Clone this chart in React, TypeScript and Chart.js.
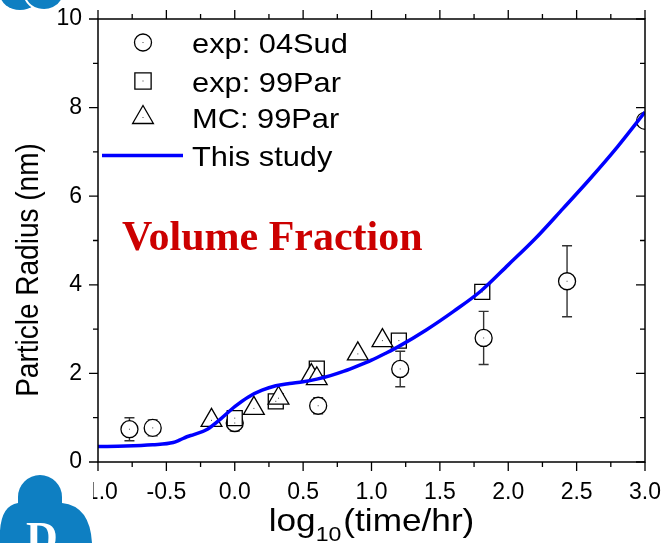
import React, { useEffect, useRef } from "react";
import { Chart, registerables } from "chart.js";

Chart.register(...registerables);

// exp: 04Sud (with error bars)
const sudX = [-0.77, -0.6, 0.0, 0.61, 1.21, 1.82, 2.43, 3.0];
const sudY = [0.74, 0.77, 0.88, 1.27, 2.1, 2.8, 4.08, 7.7];
const sudErr = [0.26, 0.18, 0.18, 0.18, 0.4, 0.6, 0.8, 0];

// exp: 99Par
const parX = [0.0, 0.3, 0.6, 1.2, 1.81];
const parY = [0.99, 1.37, 2.11, 2.74, 3.84];

// MC: 99Par
const mcX = [-0.17, 0.14, 0.32, 0.56, 0.6, 0.9, 1.08];
const mcY = [0.94, 1.21, 1.44, 1.95, 1.88, 2.44, 2.74];

// This study
const studyX = [-1.0, -0.8, -0.6, -0.45, -0.4, -0.35, -0.3, -0.2, -0.1, 0.0, 0.1, 0.2, 0.3, 0.4, 0.5, 0.6, 0.7, 0.8, 0.9, 1.0, 1.1, 1.2, 1.4, 1.6, 1.8, 2.0, 2.2, 2.4, 2.6, 2.8, 3.0];
const studyY = [0.35, 0.36, 0.39, 0.44, 0.5, 0.57, 0.62, 0.74, 0.98, 1.25, 1.47, 1.62, 1.72, 1.77, 1.81, 1.87, 1.95, 2.05, 2.17, 2.3, 2.45, 2.61, 2.98, 3.4, 3.86, 4.45, 5.05, 5.72, 6.4, 7.12, 7.9];

const xTicks = [-1.0, -0.5, 0.0, 0.5, 1.0, 1.5, 2.0, 2.5, 3.0];
const yTicks = [0, 2, 4, 6, 8, 10];

const legendLabels = ["exp: 04Sud", "exp: 99Par", "MC: 99Par", "This study"];
const annotationText = "Volume Fraction";

const SANS = "'Liberation Sans', Arial, sans-serif";
const SERIF = "'Liberation Serif', 'Times New Roman', serif";
const STRETCH = 1.1;

const toPoints = (xs: number[], ys: number[]) => xs.map((x, i) => ({ x, y: ys[i] }));

function drawMarker(ctx: CanvasRenderingContext2D, style: string, x: number, y: number, r: number) {
  ctx.save();
  ctx.fillStyle = "#ffffff";
  ctx.strokeStyle = "#000000";
  ctx.lineWidth = 1.3;
  ctx.beginPath();
  if (style === "circle") {
    ctx.arc(x, y, r, 0, Math.PI * 2);
  } else if (style === "rect") {
    const s = r * Math.SQRT1_2;
    ctx.rect(x - s, y - s, 2 * s, 2 * s);
  } else {
    let a = 0;
    ctx.moveTo(x + Math.sin(a) * r, y - Math.cos(a) * r);
    a += (2 * Math.PI) / 3;
    ctx.lineTo(x + Math.sin(a) * r, y - Math.cos(a) * r);
    a += (2 * Math.PI) / 3;
    ctx.lineTo(x + Math.sin(a) * r, y - Math.cos(a) * r);
    ctx.closePath();
  }
  ctx.fill();
  ctx.stroke();
  ctx.fillStyle = "#444";
  ctx.fillRect(x - 0.5, y - 0.5, 1, 1);
  ctx.restore();
}

function stretchedText(ctx: CanvasRenderingContext2D, text: string, x: number, y: number) {
  ctx.save();
  ctx.translate(x, y);
  ctx.scale(STRETCH, 1);
  ctx.fillText(text, 0, 0);
  ctx.restore();
}

const decorPlugin = {
  id: "decor",
  beforeDatasetsDraw(chart: any) {
    const { ctx } = chart;
    const xs = chart.scales.x;
    const ys = chart.scales.y;
    ctx.save();
    ctx.strokeStyle = "#333";
    ctx.lineWidth = 1.4;
    sudX.forEach((xv, i) => {
      const e = sudErr[i];
      if (!e) return;
      const px = xs.getPixelForValue(xv);
      const top = ys.getPixelForValue(sudY[i] + e);
      const bot = ys.getPixelForValue(sudY[i] - e);
      ctx.beginPath();
      ctx.moveTo(px, top);
      ctx.lineTo(px, bot);
      ctx.moveTo(px - 5, top);
      ctx.lineTo(px + 5, top);
      ctx.moveTo(px - 5, bot);
      ctx.lineTo(px + 5, bot);
      ctx.stroke();
    });
    ctx.restore();
  },
  afterDatasetsDraw(chart: any) {
    const { ctx } = chart;
    const area = chart.chartArea;
    ctx.save();
    ctx.beginPath();
    ctx.rect(area.left, area.top, area.right - area.left, area.bottom - area.top);
    ctx.clip();
    ctx.fillStyle = "#444";
    [1, 2, 3].forEach((di) => {
      chart.getDatasetMeta(di).data.forEach((p: any) => {
        ctx.fillRect(p.x - 0.5, p.y - 0.5, 1, 1);
      });
    });
    ctx.restore();
  },
  afterDraw(chart: any) {
    const { ctx } = chart;
    const xs = chart.scales.x;
    const ys = chart.scales.y;
    const { left, right, top, bottom } = chart.chartArea;

    // frame
    ctx.save();
    ctx.strokeStyle = "#000";
    ctx.lineWidth = 1.5;
    ctx.strokeRect(left, top, right - left, bottom - top);

    // ticks (major + minor)
    ctx.lineWidth = 1.3;
    ctx.beginPath();
    for (let v = -1.0; v <= 3.0001; v += 0.25) {
      const major = Math.abs(v * 2 - Math.round(v * 2)) < 1e-6;
      const px = xs.getPixelForValue(v);
      const len = major ? 9 : 5;
      ctx.moveTo(px, bottom);
      ctx.lineTo(px, bottom + len);
      ctx.moveTo(px, top);
      ctx.lineTo(px, top - len);
    }
    for (let v = 0; v <= 10; v += 1) {
      const major = v % 2 === 0;
      const py = ys.getPixelForValue(v);
      const len = major ? 9 : 5;
      ctx.moveTo(left, py);
      ctx.lineTo(left - len, py);
      ctx.moveTo(right, py);
      ctx.lineTo(right - len, py);
    }
    ctx.stroke();
    ctx.restore();

    // legend
    ctx.save();
    const rows = [42.5, 81, 117.5, 155.5];
    const styles = ["circle", "rect", "triangle"];
    const radii = [8.5, 11.5, 12];
    styles.forEach((s, i) => drawMarker(ctx, s, 143, rows[i], radii[i]));
    ctx.strokeStyle = "#0000ff";
    ctx.lineWidth = 3.5;
    ctx.beginPath();
    ctx.moveTo(102, rows[3]);
    ctx.lineTo(183, rows[3]);
    ctx.stroke();
    ctx.fillStyle = "#000";
    ctx.font = `28px ${SANS}`;
    ctx.textBaseline = "alphabetic";
    ctx.textAlign = "left";
    legendLabels.forEach((t, i) => stretchedText(ctx, t, 192, rows[i] + 10.5));
    ctx.restore();

    // annotation
    ctx.save();
    ctx.fillStyle = "#cc0000";
    ctx.font = `bold 42px ${SERIF}`;
    ctx.textBaseline = "alphabetic";
    ctx.textAlign = "left";
    ctx.fillText(annotationText, 122, 250);
    ctx.restore();

    // y-axis title
    ctx.save();
    ctx.fillStyle = "#000";
    ctx.font = `28px ${SANS}`;
    ctx.textAlign = "center";
    ctx.textBaseline = "alphabetic";
    ctx.translate(38, 270);
    ctx.rotate(-Math.PI / 2);
    ctx.scale(1, STRETCH);
    ctx.fillText("Particle Radius (nm)", 0, 0);
    ctx.restore();

    // x-axis title with subscript
    ctx.save();
    ctx.fillStyle = "#000";
    ctx.textBaseline = "alphabetic";
    ctx.textAlign = "left";
    const bigFont = `32px ${SANS}`;
    const subFont = `21px ${SANS}`;
    ctx.font = bigFont;
    const w1 = ctx.measureText("log").width * STRETCH;
    const w3 = ctx.measureText("(time/hr)").width * STRETCH;
    ctx.font = subFont;
    const w2 = ctx.measureText("10").width * STRETCH;
    const total = w1 + w2 + 2 + w3;
    let cx = (left + right) / 2 - total / 2;
    const base = 531;
    ctx.font = bigFont;
    stretchedText(ctx, "log", cx, base);
    cx += w1;
    ctx.font = subFont;
    stretchedText(ctx, "10", cx, base + 10);
    cx += w2 + 2;
    ctx.font = bigFont;
    stretchedText(ctx, "(time/hr)", cx, base);
    ctx.restore();

    // site logos in the corners
    ctx.save();
    const blue = "#0e7fc2";
    ctx.fillStyle = "#ffffff";
    ctx.fillRect(0, 470, 93, 73);
    ctx.fillStyle = blue;
    ctx.beginPath();
    ctx.arc(40, 497, 22, Math.PI, 0);
    ctx.lineTo(62, 503);
    ctx.quadraticCurveTo(90, 506, 92, 543);
    ctx.lineTo(0, 543);
    ctx.quadraticCurveTo(-2, 506, 18, 503);
    ctx.closePath();
    ctx.fill();
    ctx.fillStyle = "#ffffff";
    ctx.font = `bold 44px ${SERIF}`;
    ctx.textAlign = "center";
    ctx.fillText("D", 42, 552);
    ctx.fillStyle = blue;
    ctx.beginPath();
    ctx.ellipse(20, -6, 20, 16, 0, 0, Math.PI * 2);
    ctx.fill();
    ctx.beginPath();
    ctx.ellipse(44, -8, 20, 18, 0, 0, Math.PI * 2);
    ctx.fill();
    ctx.strokeStyle = "#ffffff";
    ctx.lineWidth = 2;
    ctx.beginPath();
    ctx.ellipse(44, -8, 20, 18, 0, 0.3, Math.PI - 0.3);
    ctx.stroke();
    ctx.restore();
  },
};

export default function App() {
  const canvasRef = useRef<HTMLCanvasElement | null>(null);

  useEffect(() => {
    document.body.style.margin = "0";
    const canvas = canvasRef.current;
    if (!canvas) return;
    const markerBase = {
      type: "scatter" as const,
      showLine: false,
      backgroundColor: "#ffffff",
      borderColor: "#000000",
      borderWidth: 1.3,
      clip: 0,
    };
    const chart = new Chart(canvas, {
      type: "scatter",
      data: {
        datasets: [
          {
            type: "line",
            label: legendLabels[3],
            data: toPoints(studyX, studyY),
            borderColor: "#0000ff",
            borderWidth: 3.5,
            pointRadius: 0,
            fill: false,
            tension: 0.4,
            cubicInterpolationMode: "monotone",
            order: 0,
            clip: 0,
          },
          {
            ...markerBase,
            label: legendLabels[2],
            data: toPoints(mcX, mcY),
            pointStyle: "triangle",
            pointRadius: 12,
            order: 1,
          },
          {
            ...markerBase,
            label: legendLabels[1],
            data: toPoints(parX, parY),
            pointStyle: "rect",
            pointRadius: 10.6,
            order: 2,
          },
          {
            ...markerBase,
            label: legendLabels[0],
            data: toPoints(sudX, sudY),
            pointStyle: "circle",
            pointRadius: 8.5,
            order: 3,
          },
        ],
      } as any,
      options: {
        responsive: false,
        animation: false,
        devicePixelRatio: 1,
        layout: { padding: { top: 19, right: 19, left: 0, bottom: 0 } },
        plugins: {
          legend: { display: false },
          tooltip: { enabled: false },
        },
        scales: {
          x: {
            type: "linear",
            min: -1,
            max: 3,
            afterFit: (s: any) => {
              s.height = 81;
              s.paddingLeft = 0;
              s.paddingRight = 0;
            },
            afterBuildTicks: (s: any) => {
              s.ticks = xTicks.map((v) => ({ value: v }));
            },
            grid: { display: false, drawTicks: false },
            border: { display: false },
            ticks: {
              font: { family: SANS, size: 23 },
              color: "#000",
              padding: 17,
              maxRotation: 0,
              autoSkip: false,
              callback: (v: any) => Number(v).toFixed(1),
            },
          },
          y: {
            type: "linear",
            min: 0,
            max: 10,
            afterFit: (s: any) => {
              s.width = 98;
              s.paddingTop = 0;
              s.paddingBottom = 0;
            },
            afterBuildTicks: (s: any) => {
              s.ticks = yTicks.map((v) => ({ value: v }));
            },
            grid: { display: false, drawTicks: false },
            border: { display: false },
            ticks: {
              font: { family: SANS, size: 23 },
              color: "#000",
              padding: 16,
              autoSkip: false,
              callback: (v: any) => String(v),
            },
          },
        },
      },
      plugins: [decorPlugin],
    });
    return () => chart.destroy();
  }, []);

  return (
    <div style={{ width: 664, height: 543, background: "#fff" }}>
      <canvas ref={canvasRef} width={664} height={543} style={{ display: "block" }} />
    </div>
  );
}
